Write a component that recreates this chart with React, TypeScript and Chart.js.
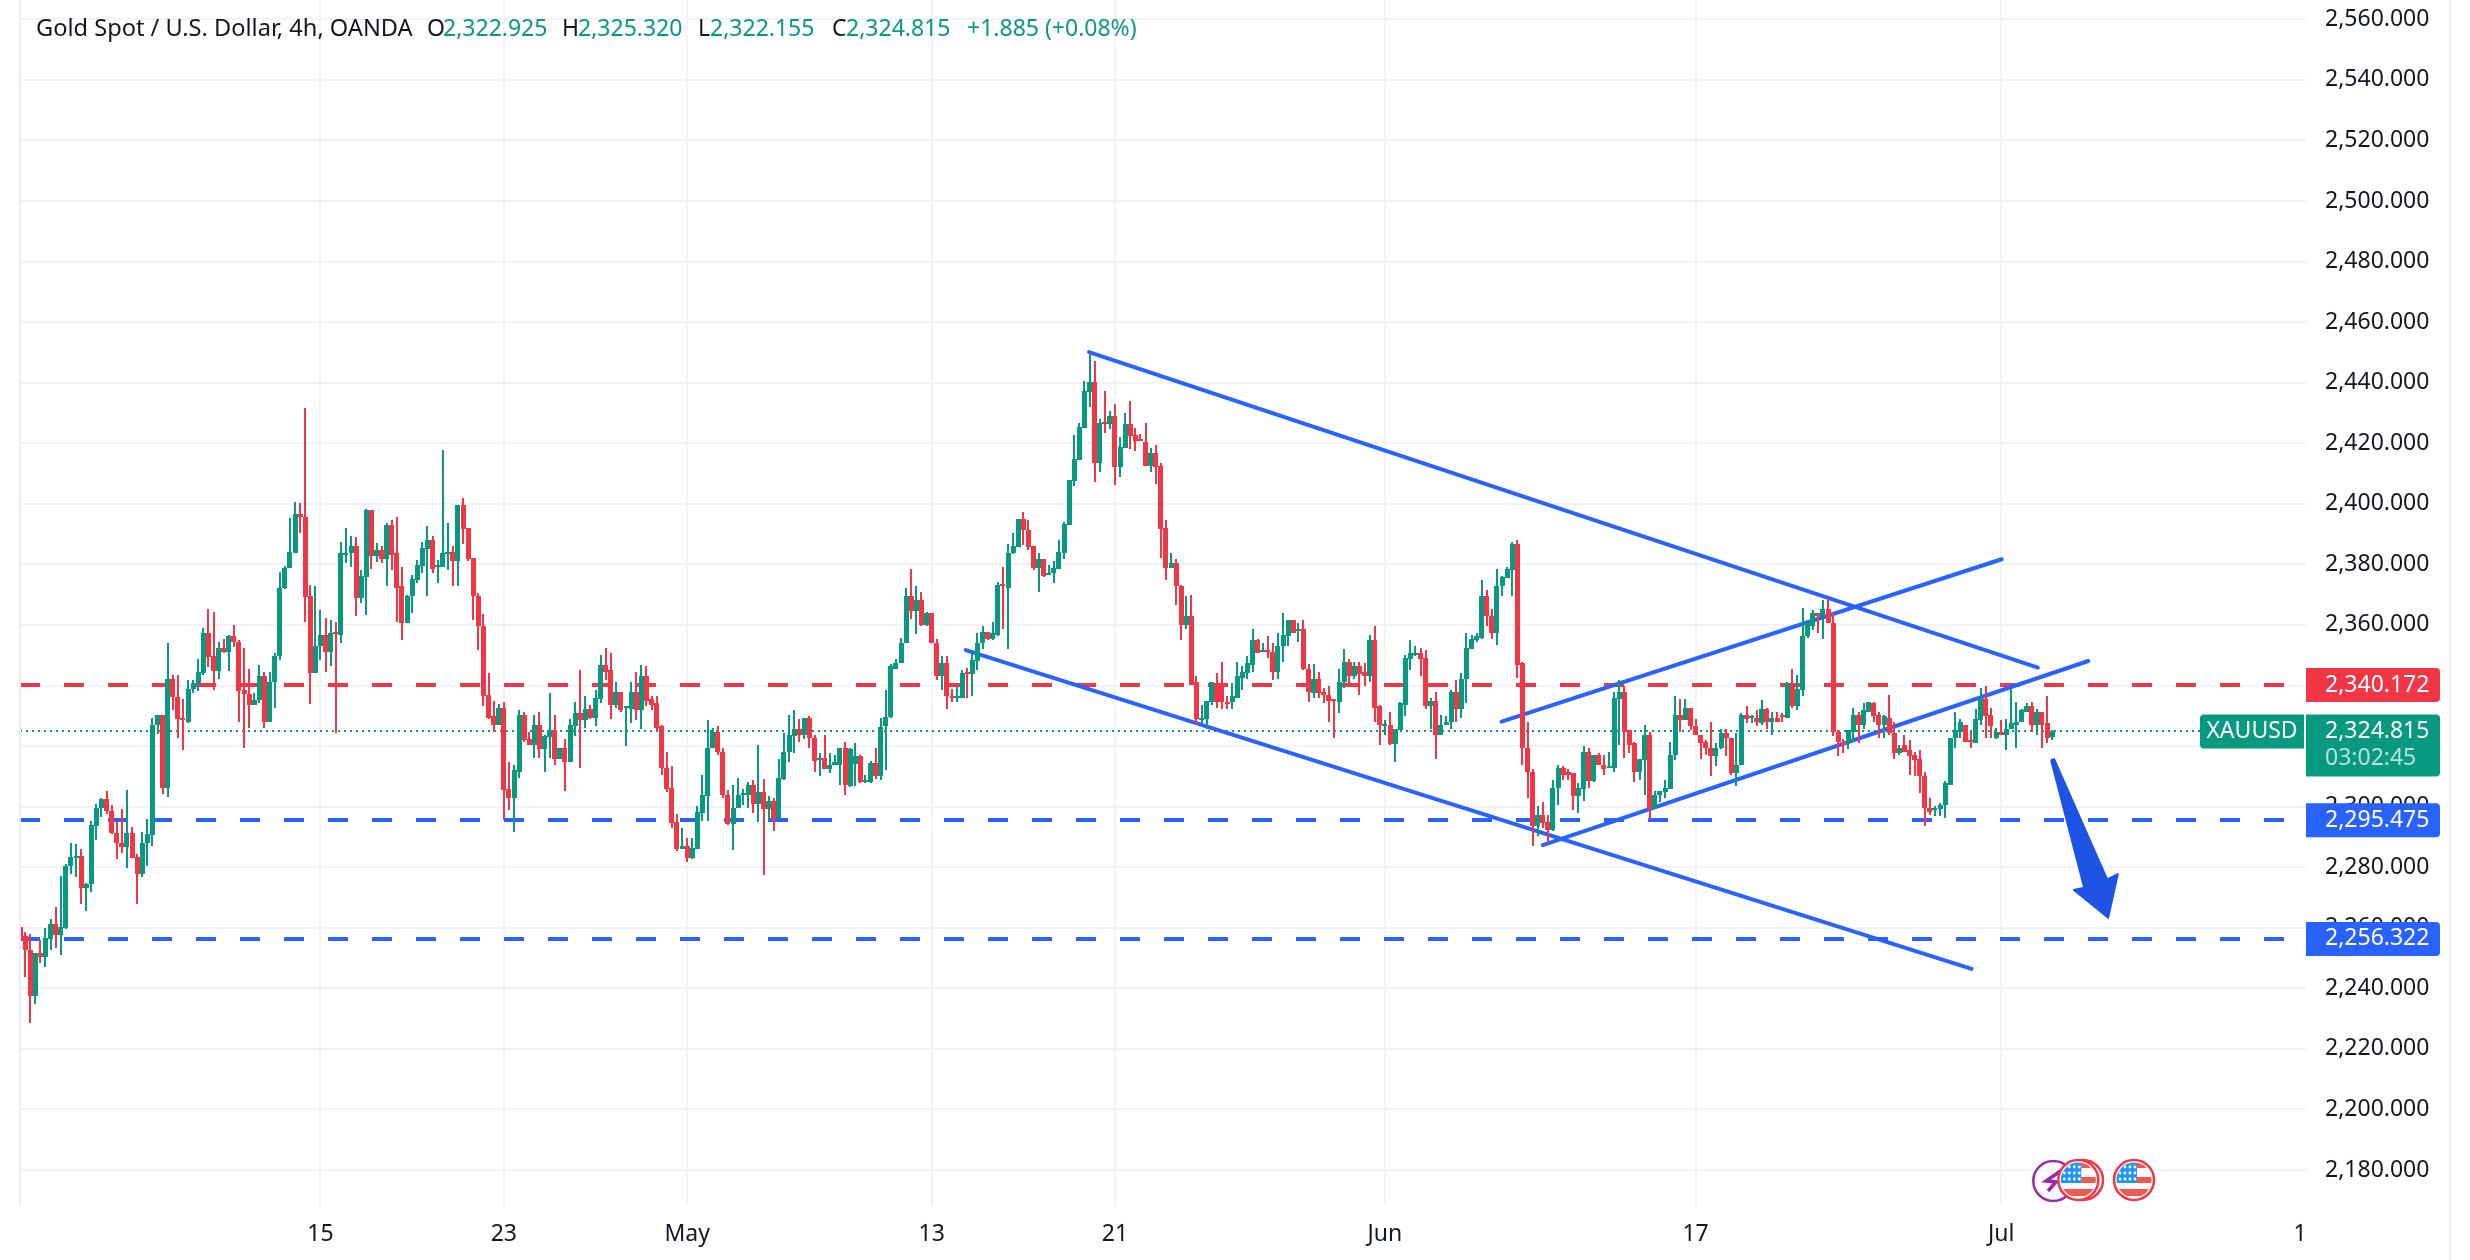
import { useEffect, useRef } from 'react';
import { Chart, registerables } from 'chart.js';

Chart.register(...registerables);

const FONT = '"Noto Sans", sans-serif';
const UP = '#089981';
const DOWN = '#F23645';
const BLUE = '#2962FF';
const GRID = '#F2F3F5';
const TEXT = '#131722';

const opens = [
2260.1,2257.4,2252.7,2237.6,2251.6,2250.2,2256.3,2261.3,2257.5,2260,
2280.3,2283.2,2283.6,2273.1,2274.4,2293.6,2299.5,2302.4,2298.7,2291.3,
2288.1,2286.6,2291.2,2283.2,2277.7,2288,2290.6,2326.9,2330.1,2306.1,
2342.2,2336.3,2329.3,2328.1,2338.8,2340.8,2344,2357.5,2349.6,2344.7,
2352.5,2351.2,2356.2,2354.5,2338.4,2337.3,2333.5,2335.2,2343,2327.9,
2341.1,2349.7,2372.1,2378.7,2383.7,2396.8,2395.8,2369.4,2344.1,2353,
2356.8,2351.2,2357.8,2356.8,2383.6,2383.6,2386.2,2369,2376,2397.8,
2382.9,2384.6,2381.9,2393.1,2383.6,2372.7,2360.8,2369.4,2375,2379.6,
2385.2,2388.2,2379.3,2379.3,2383.6,2384.2,2381.2,2399.7,2392.1,2382.2,
2369.7,2359.8,2337,2329.8,2326.8,2332.7,2305.7,2303,2311.6,2330.4,
2322.2,2320.5,2326.8,2318.9,2323,2325.2,2315.6,2319.2,2314.9,2326.5,
2330.8,2328.5,2332.4,2329.4,2335.7,2346.9,2345,2333.4,2338,2332.7,
2332.4,2338,2331.8,2343,2335.4,2334.1,2326.5,2312.9,2306,2294.8,
2285.9,2286.9,2282.9,2285.9,2297.8,2303.4,2319.2,2324.5,2318.2,2304,
2294.1,2299.4,2303.7,2303.7,2307.3,2301,2304.7,2299.1,2301.7,2295.8,
2309,2317.9,2323.2,2325.8,2323.5,2329.4,2322.8,2315.6,2315.9,2312.3,
2313.9,2313.9,2319.2,2306.7,2314.2,2316.6,2308.1,2308.1,2314.4,2310.1,
2326.6,2329.6,2345.6,2347.4,2354,2369.7,2364.5,2368.4,2360.1,2364.1,
2354.2,2343,2347.3,2336.5,2336.2,2336,2344.3,2343.7,2348,2353.9,
2357.8,2355.5,2356.8,2373.6,2372.3,2383.6,2385.9,2395.1,2391.5,2386.2,
2378.9,2381.9,2376.6,2377.3,2378.6,2383.9,2393.1,2407.7,2414.6,2425.1,
2437,2440.3,2413.6,2427.1,2426.5,2429.1,2412.3,2418.6,2426.5,2422.8,
2421.5,2420.5,2412.6,2416.9,2412.6,2392.1,2378.9,2380.3,2373,2360.1,
2362.8,2341,2328.8,2329.1,2334.7,2340.7,2340.7,2334.7,2334.4,2336,
2342.6,2344,2346.9,2354.9,2351.2,2351.6,2351.2,2344.6,2353,2356.5,
2361.5,2358.4,2358.5,2345.6,2337.6,2342,2337.9,2337,2335.6,2334.7,
2341,2347.9,2343,2346.3,2344.3,2343,2354.9,2333.1,2327,2327.1,
2320.8,2325.2,2333.7,2348.9,2350.1,2350.6,2349.2,2333.1,2335,2323.5,
2326.8,2327.8,2338,2332.4,2342,2352.2,2354.9,2355.8,2369.4,2363.1,
2357.2,2372.7,2375.6,2378.3,2386.9,2347.3,2319.5,2311.6,2293.5,2297.1,
2294.8,2292.2,2306,2312.9,2311.3,2311,2303.4,2305.7,2317.9,2308.3,
2316.9,2313.9,2312.6,2312.6,2335.7,2337.7,2325.2,2320.9,2311.6,2315.3,
2323.5,2299.1,2303.7,2304.7,2305.7,2316.9,2330.4,2328.5,2332.7,2326.5,
2323.8,2321.2,2319.5,2316.6,2319.5,2324.2,2322.5,2311,2313.6,2330.4,
2329.4,2329.4,2327.5,2332.4,2328.1,2329.4,2330.4,2329.4,2340.7,2333.1,
2338.4,2356.2,2359.5,2364.1,2362.8,2365.4,2360.8,2324.8,2321.2,2320.9,
2324.8,2330.4,2327.1,2331.4,2334.1,2330.1,2327.1,2329.4,2324.2,2317.6,
2320.2,2318.6,2316.9,2315.6,2310,2299.7,2299.1,2299.1,2300.4,2307.3,
2322.5,2324.8,2327.1,2321.9,2320.9,2328.5,2335.4,2330.1,2322.8,2324.8,
2323.5,2325.5,2327.1,2327.8,2331.4,2333.1,2327.1,2331.1,2327.5,2322.925,
];

const highs = [
2263.5,2258.6,2257.9,2251.6,2255.9,2259.9,2263,2266.8,2277,2281,
2288,2287.8,2285.9,2274.9,2295.1,2300.9,2302.7,2305,2300.7,2294.9,
2299.3,2305.6,2293.4,2284.2,2291.7,2296,2329.4,2330.4,2330.1,2354.2,
2343.6,2343.6,2335.7,2341.9,2341.7,2348.6,2359.1,2365.4,2364.4,2354.5,
2355.5,2356.8,2360.1,2354.9,2352.5,2345.3,2337.4,2346.9,2344.6,2344.3,
2350.9,2377.6,2379.6,2395.4,2400.7,2400.4,2431.7,2373.3,2373,2364.8,
2362.4,2361.5,2361.1,2387.5,2392.1,2389.5,2389.2,2378.3,2398.4,2397.8,
2387.2,2386.2,2393.8,2394.5,2395.8,2379.3,2370,2376.6,2381.3,2387.5,
2392.8,2389.5,2381.6,2417.9,2393.8,2386.2,2399.7,2402,2392.1,2382.2,
2370.7,2363.7,2344,2335,2334,2334.4,2314.9,2313.6,2332,2331.4,
2324.5,2330.1,2331.4,2323.5,2337.4,2330.4,2319.5,2322.2,2328.8,2334.7,
2345,2336.4,2333.4,2338.4,2350.2,2352.5,2350.6,2341.3,2338,2333.1,
2341.3,2344.3,2346.9,2346.6,2336.7,2336.4,2327.1,2317.9,2313.3,2297.4,
2293.1,2289.5,2289.8,2300.1,2310.6,2328.5,2326.1,2326.5,2319.2,2305.4,
2307,2309.3,2305.7,2308,2308.7,2320.5,2309,2303.4,2303,2315.6,
2324.2,2330.4,2332,2329.1,2329.4,2329.8,2323.5,2317.6,2323.8,2317.6,
2316.9,2319.5,2321.5,2319.3,2320.9,2317.2,2310.5,2315.1,2319.3,2329.2,
2338.6,2347,2348.8,2355.8,2372.3,2378.6,2373,2371,2364.4,2364.1,
2355.2,2349.9,2349.6,2338.7,2339.7,2345,2345.9,2351.2,2357.2,2359.8,
2357.8,2361.1,2374.3,2379,2386.9,2390.5,2395.1,2397.4,2394.5,2386.2,
2383.9,2381.9,2379.9,2381.2,2387.9,2394.1,2408,2422.8,2426.8,2440.7,
2449.9,2447.3,2428.1,2437.4,2430.8,2433.1,2422.2,2430.1,2434,2425.1,
2423.2,2426.8,2418.5,2419.5,2413.6,2394.5,2383.9,2381.9,2373.3,2369.4,
2370,2343,2333.7,2335,2341,2344,2347.6,2336.7,2340.7,2347.6,
2346.6,2349.9,2358.5,2355.2,2353.9,2356.5,2353.9,2357.2,2364.1,2361.5,
2361.5,2360.8,2361.5,2347.2,2347.2,2344.3,2339.2,2340,2335.6,2345.3,
2351.9,2348.9,2347.6,2347.9,2347.3,2356.8,2359.8,2333.7,2328.7,2331.1,
2325.5,2334.4,2350.2,2354.9,2352.9,2352.5,2351.8,2336,2338,2330.4,
2329.8,2338.4,2341.7,2344,2357.5,2356.8,2357.5,2375,2371.4,2365.4,
2378.6,2376.3,2379.3,2387.5,2387.9,2347.9,2328.1,2312.3,2300.1,2301.4,
2297.1,2308.7,2313.9,2313.3,2312.3,2311,2307.7,2319.9,2319.5,2317.2,
2317.6,2316.9,2317.9,2337.7,2341.7,2339.7,2325.2,2321.5,2315.6,2326.8,
2324.8,2305,2305,2308.7,2321.5,2336.7,2335.4,2335.7,2332.7,2329.1,
2323.8,2321.9,2327.8,2320.9,2325.5,2325.8,2322.5,2324.2,2330.8,2333.1,
2330.1,2331.8,2335.1,2332.7,2331.4,2331.1,2330.8,2341,2345.6,2343.6,
2365.7,2361.1,2364.8,2364.1,2368.1,2368.7,2363.8,2325.2,2322.2,2325.2,
2332.7,2331.1,2334.1,2334.7,2334.4,2331.1,2330.4,2337,2328.1,2320.5,
2323.8,2321.9,2318.2,2318.6,2311.6,2303,2300.1,2301.1,2308.3,2322.8,
2331.1,2328.8,2327.1,2324.5,2332.1,2339.3,2339.7,2332.7,2326.1,2328.5,
2328.8,2338.7,2334.4,2332.4,2334.1,2334.4,2332.4,2331.4,2336.7,2325.32,
];

const lows = [
2255.8,2243.8,2228.5,2234.7,2248.3,2246.9,2252.5,2253.3,2251,2259.7,
2277.7,2276.8,2267.9,2265.6,2271.8,2289,2296.5,2297.5,2291,2282.7,
2284.6,2279.7,2283,2267.9,2276.7,2280.4,2287,2323.9,2304.1,2303.2,
2331.8,2322.6,2318.7,2327.6,2337.5,2338.1,2343.4,2346,2338.5,2342.1,
2350.7,2344.7,2352.7,2327.9,2319.3,2325.9,2333.5,2334.2,2325.9,2327.9,
2332.5,2348.3,2372,2378.7,2383.7,2390.5,2360.9,2333.8,2344.1,2348.3,
2344.6,2346.3,2324.3,2354.2,2380.3,2379.3,2363.1,2367.4,2363.4,2378.6,
2380.9,2380.3,2372.7,2378.3,2361.1,2354.9,2360.8,2364.1,2374,2377.3,
2369.7,2377,2374,2379,2378,2373,2373,2386.9,2381.2,2361.8,
2351.6,2333.1,2328.8,2324.5,2326.8,2295.5,2298.8,2291.5,2309.6,2321.2,
2320.5,2315.9,2316.2,2311.6,2315.9,2313.6,2315.6,2305,2314.6,2323.2,
2312.9,2326.1,2328.8,2326.5,2334.1,2341.7,2328.8,2332.7,2331.1,2319.9,
2327.5,2328.5,2325.5,2333.1,2331.8,2325.2,2310.6,2304.7,2293.1,2285.2,
2285.9,2281.6,2282.6,2285.9,2295.1,2295.1,2319.2,2317.2,2303,2293.8,
2285.6,2299.4,2300.4,2299.7,2297.8,2294.8,2277.3,2295.5,2291.8,2295.8,
2308.7,2314.6,2317.6,2321.2,2322.2,2319.5,2311.6,2310,2312.3,2311,
2313.9,2307,2303.7,2306.5,2306.7,2307.9,2307.9,2307.9,2309.1,2308.7,
2312,2329.3,2345.3,2347.4,2354,2361.9,2356.9,2359.8,2359.8,2354,
2341.7,2338.4,2332.1,2334.4,2334.7,2336,2336,2336.7,2345,2352.2,
2354.9,2354.9,2356.5,2358.5,2351.9,2383.5,2385.9,2386.5,2384.9,2378,
2371,2376,2376.6,2374,2378.6,2381.9,2393.1,2406,2414.6,2425.1,
2432,2407.3,2410.6,2423.4,2424.6,2406.3,2408.7,2418.6,2418.2,2417.5,
2420.9,2412.6,2410.6,2406.7,2382.2,2375,2378.9,2366.7,2354.9,2358.8,
2340.3,2327.1,2327.4,2325.5,2333.4,2332.7,2332.4,2332.1,2332.4,2336,
2338.4,2342.3,2344.6,2350.9,2351.2,2349.2,2341.7,2342.3,2347.9,2352.9,
2357.5,2354.5,2345,2334.4,2336,2336,2334.1,2328.1,2322.6,2330.8,
2339.3,2340,2342,2337,2339.7,2341,2327.8,2320.5,2323.7,2320.2,
2314.6,2325.2,2329.8,2345,2349.9,2343.3,2332.4,2325.5,2315.6,2323.5,
2326.8,2325.8,2328.1,2329.4,2334.1,2352.2,2354.5,2355.5,2359.8,2355.5,
2353.5,2369.4,2375.6,2369.4,2342.6,2313.6,2303,2286.9,2290.2,2292.8,
2287.9,2291.8,2300.4,2308.7,2308.7,2298.8,2297.8,2301.7,2306,2308,
2313.6,2310.6,2312.6,2311.6,2320.2,2315.9,2317.6,2308,2308.7,2304,
2295.5,2299.1,2301.4,2303,2305.7,2315.3,2324.5,2328.5,2325.2,2323.5,
2315.6,2316.9,2310,2313.3,2318.9,2316.6,2310.6,2306.7,2313.6,2327.5,
2327.5,2326.5,2327.1,2325.5,2323.8,2327.8,2327.8,2329.4,2332.7,2331.8,
2336.7,2355.8,2358.2,2357.2,2355.2,2360.5,2323.2,2316.6,2317.6,2318.9,
2321.2,2320.9,2325.8,2331.1,2328.1,2322.8,2322.8,2323.8,2315.6,2316.9,
2317.9,2310.6,2310,2304.4,2293.5,2297.1,2296.8,2296.8,2296.4,2307.3,
2319.5,2322.5,2321.2,2319.2,2320.9,2327.1,2322.8,2322.8,2322.2,2323.5,
2318.6,2325.5,2319.2,2327.8,2331.4,2324.8,2323.5,2319.2,2320.9,2322.155,
];

const closes = [
2255.8,2252.5,2237.6,2251.6,2250.2,2256.6,2261.3,2257.5,2260.3,2280.5,
2283.2,2283.8,2273.1,2274.6,2293.8,2299.7,2302.4,2298.5,2291.3,2288,
2286.6,2291.2,2283,2277.7,2288,2290.8,2327.1,2330.1,2306.1,2342.2,
2336.2,2328.9,2328.9,2339,2340.9,2344.3,2357.5,2349.4,2344.7,2352.5,
2351.2,2356.2,2354.3,2338.1,2337.1,2333.5,2335.3,2343,2327.9,2341.2,
2349.9,2372.3,2378.9,2384.2,2396.8,2395.6,2369.2,2344.1,2353.2,2356.8,
2351.2,2357.5,2357.2,2383.6,2383.8,2386.2,2369,2376.3,2397.8,2382.9,
2384.6,2381.9,2393.1,2383.2,2372.3,2360.8,2369.7,2375.3,2379.9,2385.5,
2388.2,2378.6,2379.9,2383.6,2384.2,2381.2,2399.7,2391.8,2381.9,2369.4,
2359.5,2336.7,2329.4,2326.8,2332.7,2305.4,2303,2312,2330.4,2321.9,
2320.5,2326.8,2318.9,2323.2,2325.2,2315.6,2319.2,2314.9,2326.8,2330.8,
2328.5,2332.4,2329.4,2336,2346.9,2344.6,2333.4,2338,2331.8,2333.1,
2338,2331.8,2343,2335,2333.7,2326.1,2312.6,2305.7,2294.5,2285.9,
2286.9,2282.9,2286.2,2298.1,2303.7,2319.5,2324.5,2317.9,2303.7,2294.1,
2299.7,2303.7,2304.4,2307.3,2301,2304.7,2299.1,2301.7,2295.8,2309.3,
2318.2,2323.5,2325.8,2323.5,2329.4,2322.5,2315.2,2316.2,2312.3,2313.9,
2314.6,2319.2,2307,2319,2316.6,2308.1,2308.7,2314.4,2310.1,2326.4,
2329.6,2346.3,2347.4,2354.2,2369.7,2364.5,2368.4,2360.1,2364.1,2354,
2343,2347.3,2336.4,2335.9,2336.5,2344,2343.9,2348.3,2354.2,2357.8,
2355.5,2357.2,2373.3,2373.1,2383.9,2386.2,2395.1,2391.2,2385.9,2378.9,
2381.9,2376.3,2377.3,2378.9,2384.2,2393.5,2408,2414.9,2425.5,2437.4,
2440.3,2413.6,2426.8,2426.8,2429.1,2412.3,2418.9,2426.5,2422.5,2420.9,
2420.9,2412.6,2416.9,2412.3,2391.8,2378.9,2380.3,2372.7,2360.1,2362.8,
2340.3,2328.8,2329.4,2335,2341,2334.7,2334.4,2334.4,2336.4,2343,
2344.3,2347.3,2354.9,2350.9,2351.6,2351,2344.6,2353.2,2356.8,2361.5,
2357.5,2358.7,2345.3,2337.7,2342,2337.6,2337,2335,2335,2341.3,
2347.9,2343,2346.3,2343.9,2343,2354.9,2332.7,2326.8,2327.4,2320.8,
2325.5,2334.1,2349.2,2350.6,2350.7,2348.9,2333.1,2335,2323.5,2327.1,
2328.1,2338,2332.4,2342.3,2352.5,2355.2,2356.2,2369.4,2362.8,2357.2,
2373,2376,2378.6,2386.9,2346.9,2319.2,2311.3,2293.5,2297.1,2294.5,
2292.2,2306.3,2312.9,2310.6,2310.6,2303.4,2306,2317.9,2308.3,2316.9,
2313.6,2312.3,2313.3,2336,2337.7,2324.8,2320.5,2311.6,2315.6,2323.5,
2299.1,2304,2305,2306,2317.2,2330.4,2328.5,2332.7,2326.5,2323.5,
2320.9,2319.2,2316.6,2319.2,2324.2,2322.5,2311,2313.9,2330.1,2329.1,
2329.8,2327.8,2332.4,2328.1,2329.4,2327.8,2329.8,2340.7,2333.1,2338.7,
2356.5,2360.8,2364.1,2362.8,2365.4,2360.5,2324.8,2321.5,2320.5,2325.2,
2330.4,2327.1,2331.8,2334.4,2329.8,2327.1,2329.8,2324.2,2317.6,2319.5,
2318.2,2316.6,2315.3,2310,2299.4,2298.1,2299.4,2300.4,2307.7,2322.8,
2325.2,2327.8,2321.2,2321.2,2328.8,2335.4,2329.8,2326.5,2324.8,2323.5,
2325.8,2327.5,2328.1,2331.8,2333.1,2327.1,2331.1,2327.1,2322.5,2324.815,
];

const priceTicks = [2180,2200,2220,2240,2260,2280,2300,2320,2340,2360,2380,2400,2420,2440,2460,2480,2500,2520,2540,2560];
const timeTicks = [59,95,131,179,215,268,329,389,447.7];
const timeLabels = ['15','23','May','13','21','Jun','17','Jul','1'];

const resistance = 2340.172;
const supportA = 2295.475;
const supportB = 2256.322;
const lastClose = 2324.815;

const channelTop = [{x:209.9,y:2450.1},{x:396.2,y:2345.9}];
const channelBottom = [{x:185.7,y:2351.7},{x:383.2,y:2246.4}];
const wedgeTop = [{x:290.9,y:2328.05},{x:389.1,y:2381.7}];
const wedgeBottom = [{x:299,y:2287.3},{x:406.1,y:2348.1}];
const arrowShape = [
  {x:398.8,y:2315.4},{x:399.4,y:2315.7},{x:409.8,y:2276},{x:411.9,y:2277.7},
  {x:410,y:2263.3},{x:403.3,y:2272.5},{x:405.3,y:2273.2},{x:398.8,y:2315.4},
];

const X_MAX = 448.85;
const Y_MIN = 2168.1;
const Y_MAX = 2566.4;

const colors = opens.map((o, i) => (closes[i] >= o ? UP : DOWN));
const bodies = opens.map((o, i) => ({ x: i, y: [o, closes[i]] }));
const wicks = lows.map((l, i) => ({ x: i, y: [l, highs[i]] }));
const fmt = (v: number) => v.toLocaleString('en-US', { minimumFractionDigits: 3, maximumFractionDigits: 3 });
const hLine = (v: number) => [{ x: 0, y: v }, { x: X_MAX, y: v }];

const snapCandles = {
  id: 'snapCandles',
  afterDatasetsUpdate(chart: any) {
    chart.data.datasets.forEach((ds: any, i: number) => {
      const meta = chart.getDatasetMeta(i);
      if (ds.snapLine) {
        meta.data.forEach((pt: any) => { pt.y = Math.round(pt.y); });
        return;
      }
      if (ds.type !== 'bar') return;
      const isBody = ds.label === 'Body';
      meta.data.forEach((el: any) => {
        const top = Math.round(Math.min(el.y, el.base));
        let bot = Math.round(Math.max(el.y, el.base));
        if (isBody && bot - top < 2) bot = top + 2;
        el.y = top;
        el.base = bot;
        el.x = isBody ? Math.round(el.x - 2.5) + 2.5 : Math.round(el.x);
      });
    });
  },
};

function badge(ctx: any, x: number, y: number, w: number, h: number, color: string, radii: number[]) {
  ctx.fillStyle = color;
  ctx.beginPath();
  ctx.roundRect(x, y, w, h, radii);
  ctx.fill();
}

function flag(ctx: any, cx: number, cy: number) {
  ctx.save();
  ctx.beginPath();
  ctx.arc(cx, cy, 20, 0, Math.PI * 2);
  ctx.fillStyle = '#fff';
  ctx.fill();
  ctx.beginPath();
  ctx.arc(cx, cy, 17.5, 0, Math.PI * 2);
  ctx.clip();
  ctx.fillStyle = '#F8F9FD';
  ctx.fillRect(cx - 18, cy - 18, 36, 36);
  ctx.fillStyle = '#F0594F';
  ctx.fillRect(cx + 3, cy - 18, 16, 6);
  ctx.fillRect(cx + 3, cy - 3, 16, 6);
  ctx.fillRect(cx - 18, cy + 9, 36, 7);
  ctx.fillStyle = '#2196F3';
  ctx.fillRect(cx - 18, cy - 18, 21, 21);
  ctx.fillStyle = '#fff';
  for (let r = 0; r < 3; r++) {
    for (let c = 0; c < 4; c++) {
      ctx.beginPath();
      ctx.arc(cx - 14 + c * 5, cy - 13 + r * 6, 1.4, 0, Math.PI * 2);
      ctx.fill();
    }
  }
  ctx.restore();
  ctx.beginPath();
  ctx.arc(cx, cy, 20, 0, Math.PI * 2);
  ctx.strokeStyle = DOWN;
  ctx.lineWidth = 2.5;
  ctx.stroke();
}

const overlay = {
  id: 'overlay',
  afterDraw(chart: any) {
    const ctx = chart.ctx;
    const y = chart.scales.y;
    ctx.save();
    ctx.fillStyle = '#ECEDF2';
    ctx.fillRect(19, 0, 2, 1206);
    ctx.fillRect(2449, 0, 2, 1260);

    ctx.font = `23px ${FONT}`;
    ctx.textBaseline = 'middle';
    ctx.textAlign = 'left';

    const rows: [string, number, string][] = [
      [fmt(resistance), y.getPixelForValue(resistance), DOWN],
      [fmt(supportA), y.getPixelForValue(supportA), BLUE],
      [fmt(supportB), y.getPixelForValue(supportB), BLUE],
    ];
    rows.forEach(([t, py, c]) => {
      badge(ctx, 2306, py - 17, 134, 34, c, [0, 4, 4, 0]);
      ctx.fillStyle = '#fff';
      ctx.fillText(t, 2325, py);
    });

    const py = y.getPixelForValue(lastClose);
    badge(ctx, 2200, py - 17, 104, 34, UP, [4, 0, 0, 4]);
    ctx.fillStyle = '#fff';
    ctx.textAlign = 'center';
    ctx.fillText('XAUUSD', 2252, py);
    ctx.textAlign = 'left';
    badge(ctx, 2306, py - 17, 134, 62, UP, [0, 4, 4, 0]);
    ctx.fillStyle = '#fff';
    ctx.fillText(fmt(lastClose), 2325, py);
    ctx.fillStyle = 'rgba(255,255,255,0.7)';
    ctx.fillText('03:02:45', 2325, py + 27);

    const header: [string, number, string][] = [
      ['O', 427, TEXT], ['2,322.925', 443, UP],
      ['H', 562, TEXT], ['2,325.320', 578, UP],
      ['L', 698, TEXT], ['2,322.155', 710, UP],
      ['C', 832, TEXT], ['2,324.815', 846, UP],
      ['+1.885 (+0.08%)', 967, UP],
    ];
    header.forEach(([t, x, c]) => {
      ctx.fillStyle = c;
      ctx.fillText(t, x, 29);
    });
    ctx.font = `23.6px ${FONT}`;
    ctx.fillStyle = TEXT;
    ctx.fillText('Gold Spot / U.S. Dollar, 4h, OANDA', 36, 29);

    ctx.beginPath();
    ctx.arc(2053.3, 1181, 20, 0, Math.PI * 2);
    ctx.strokeStyle = '#9C27B0';
    ctx.lineWidth = 2.5;
    ctx.stroke();
    ctx.beginPath();
    ctx.lineWidth = 3.5;
    ctx.moveTo(2062, 1170);
    ctx.lineTo(2046, 1181);
    ctx.lineTo(2056, 1182);
    ctx.lineTo(2048, 1191);
    ctx.stroke();

    ctx.beginPath();
    ctx.arc(2083, 1180, 20, 0, Math.PI * 2);
    ctx.strokeStyle = DOWN;
    ctx.lineWidth = 2.5;
    ctx.stroke();
    flag(ctx, 2078.3, 1180);
    flag(ctx, 2134, 1180);
    ctx.restore();
  },
};

export default function App() {
  const ref = useRef<HTMLCanvasElement>(null);
  useEffect(() => {
    const line = (label: string, data: any[], color: string, extra: any = {}) => ({
      type: 'line', label, data, borderColor: color, borderWidth: 4, pointRadius: 0, tension: 0, fill: false, order: 5, ...extra,
    });
    const chart = new Chart(ref.current as any, {
      type: 'bar',
      data: {
        datasets: [
          line('Resistance', hLine(resistance), DOWN, { borderDash: [20, 24], snapLine: true }),
          line('Support 1', hLine(supportA), BLUE, { borderDash: [20, 24], snapLine: true }),
          line('Support 2', hLine(supportB), BLUE, { borderDash: [20, 24], snapLine: true }),
          line('Last', hLine(lastClose), UP, { borderDash: [2, 4], borderWidth: 2, snapLine: true }),
          line('Channel top', channelTop, BLUE, { borderCapStyle: 'round', order: 4 }),
          line('Channel bottom', channelBottom, BLUE, { borderCapStyle: 'round', order: 4 }),
          line('Wedge top', wedgeTop, BLUE, { borderCapStyle: 'round', order: 4 }),
          line('Wedge bottom', wedgeBottom, BLUE, { borderCapStyle: 'round', order: 4 }),
          line('Arrow', arrowShape, '#1E53E5', { borderWidth: 2, borderJoinStyle: 'round', fill: 'shape', backgroundColor: '#1E53E5', order: 3 }),
          { type: 'bar', label: 'Wick', data: wicks, backgroundColor: colors, grouped: false, barPercentage: 1, categoryPercentage: 1, maxBarThickness: 2, inflateAmount: 0, order: 2 },
          { type: 'bar', label: 'Body', data: bodies, backgroundColor: colors, grouped: false, barPercentage: 1, categoryPercentage: 1, maxBarThickness: 5, inflateAmount: 0, order: 1 },
        ] as any,
      },
      options: {
        responsive: false,
        animation: false,
        layout: { padding: { left: 20, top: 0, right: 0, bottom: 0 } },
        plugins: { legend: { display: false }, tooltip: { enabled: false } },
        scales: {
          x: {
            type: 'linear',
            min: 0,
            max: X_MAX,
            offset: false,
            border: { display: false },
            grid: { offset: false, lineWidth: 2, drawTicks: false, color: (c: any) => (c.tick && c.tick.value > 440 ? 'rgba(0,0,0,0)' : GRID) },
            afterBuildTicks: (s: any) => { s.ticks = timeTicks.map((value) => ({ value })); },
            afterFit: (s: any) => { s.height = 54; s.paddingLeft = 0; s.paddingRight = 0; },
            ticks: {
              autoSkip: false,
              maxRotation: 0,
              padding: 15,
              color: TEXT,
              font: { family: FONT, size: 23 },
              callback: (v: any) => timeLabels[timeTicks.indexOf(Number(v))] ?? '',
            },
          },
          y: {
            type: 'linear',
            position: 'right',
            min: Y_MIN,
            max: Y_MAX,
            border: { display: false },
            grid: { lineWidth: 2, drawTicks: false, color: GRID },
            afterBuildTicks: (s: any) => { s.ticks = priceTicks.map((value) => ({ value })); },
            afterFit: (s: any) => { s.width = 164; s.paddingTop = 0; s.paddingBottom = 0; },
            ticks: {
              autoSkip: false,
              padding: 19,
              color: TEXT,
              font: { family: FONT, size: 23 },
              callback: (v: any) => fmt(Number(v)),
            },
          },
        },
      } as any,
      plugins: [snapCandles, overlay] as any,
    });
    return () => chart.destroy();
  }, []);
  return (
    <div style={{ position: 'fixed', left: 0, top: 0, width: 2470, height: 1260, background: '#fff' }}>
      <canvas ref={ref} width={2470} height={1260} style={{ display: 'block' }} />
    </div>
  );
}
